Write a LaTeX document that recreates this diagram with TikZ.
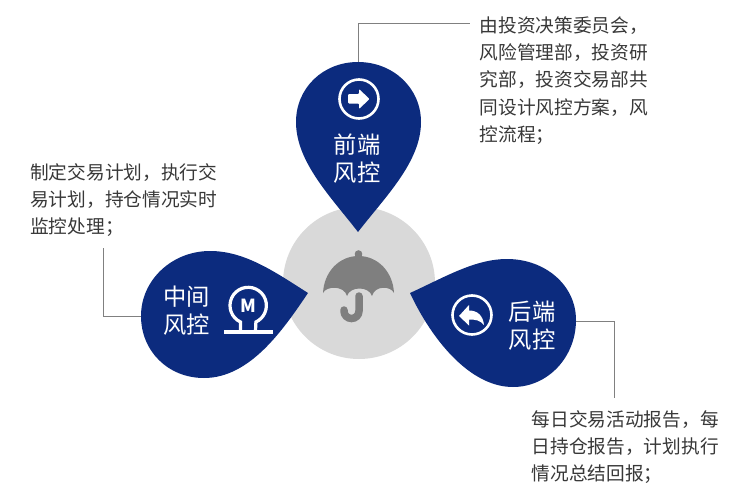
\documentclass[tikz,border=0pt]{standalone}
\usepackage{fontspec}
\setmainfont{Noto Sans CJK SC}
\definecolor{dropblue}{HTML}{0C2B7E}
\definecolor{hubgray}{HTML}{D9D9D9}
\definecolor{icongray}{HTML}{7F7F7F}
\definecolor{linegray}{HTML}{808080}
\tikzset{
  drop/.style={fill=dropblue,draw=none},
  leader/.style={draw=linegray,line width=1pt},
  bodytext/.style={anchor=north west,align=left,inner sep=0pt,text=black!78,font=\fontsize{18.7}{27.2}\selectfont},
  droplabel/.style={align=center,inner sep=0pt,text=white,font=\fontsize{23.3}{27.5}\selectfont},
  iconring/.style={draw=white,line width=2.6pt},
  iconfill/.style={fill=white,draw=none}
}
\begin{document}
\begin{tikzpicture}[x=1pt,y=-1pt]
\useasboundingbox (0,0) rectangle (750,498);
% named ends of connectors
\coordinate (frontTop) at (358.5,63);
\coordinate (frontEnd) at (470,23);
\coordinate (midLeft) at (142,316);
\coordinate (midEnd) at (103,248);
\coordinate (backRight) at (575,321);
\coordinate (backEnd) at (614,398);
% leaders
\draw[leader] (frontTop) |- (frontEnd);
\draw[leader] (midLeft) -| (midEnd);
\draw[leader] (backRight) -| (backEnd);
% hub
\fill[hubgray] (359,283) circle (76);
% drops
\path[drop] (358,232) .. controls (385,197) and (421,162) .. (421,122)
  .. controls (421,88) and (393,62) .. (358,62)
  .. controls (323,62) and (296,88) .. (296,122)
  .. controls (296,162) and (331,197) .. (358,232) -- cycle;
\path[drop] (308,293) .. controls (275,272) and (245,251) .. (210,251)
  .. controls (172,251) and (141,280) .. (141,316)
  .. controls (141,351) and (168,378) .. (204,378)
  .. controls (250,378) and (283,330) .. (308,293) -- cycle;
\path[drop] (410,293) .. controls (445,277) and (475,259) .. (507,259)
  .. controls (545,259) and (576,285) .. (576,320)
  .. controls (576,357) and (548,387) .. (513,387)
  .. controls (470,387) and (432,340) .. (410,293) -- cycle;
% umbrella
\fill[icongray] (358.5,254) circle (3.8);
\fill[icongray] (355,254) rectangle (362,262);
\fill[icongray] (323,293) .. controls (324,272) and (339,256) .. (358.5,256)
  .. controls (378,256) and (393,272) .. (394,293)
  .. controls (391,286) and (375,285) .. (372,296)
  .. controls (369,286) and (350,286) .. (347,296)
  .. controls (344,285) and (326,286) .. (323,293) -- cycle;
\draw[icongray,line width=7.5pt,line cap=round] (359,296) -- (359,311) arc[start angle=0,end angle=180,radius=7.5] -- (344,310);
% front icon
\draw[iconring] (359,99) circle (19.5);
\path[iconfill,rounded corners=1pt] (348,94) -- (359,94) -- (359,89) -- (369.5,99) -- (359,109) -- (359,103.5) -- (348,103.5) -- cycle;
% middle icon
\draw[draw=white,line width=3.2pt] (240.5,331) -- (240.5,322) arc[start angle=115,end angle=425,radius=18.2] -- (255.5,331);
\fill[white] (224,329.5) rectangle (273,334);
\node[inner sep=0pt,text=white,font=\fontsize{18}{18}\bfseries\selectfont] (micon) at (248,305.5) {M};
% back icon
\draw[iconring] (472,315) circle (19.5);
\path[iconfill] (459,316) -- (469,305) -- (469,310.5) .. controls (478,310.5) and (483,316) .. (484,325)
  .. controls (480,320) and (475,319.5) .. (469,319.5) -- (469,325.5) -- cycle;
% labels
\node[droplabel] (front) at (357,158.5) {前端\\风控};
\node[droplabel] (mid) at (186.5,310.5) {中间\\风控};
\node[droplabel] (back) at (532,325.5) {后端\\风控};
% body text
\node[bodytext] (fronttext) at (479.5,16.5) {由投资决策委员会，\\风险管理部，投资研\\究部，投资交易部共\\同设计风控方案，风\\控流程；};
\node[bodytext] (midtext) at (30,163) {制定交易计划，执行交\\易计划，持仓情况实时\\监控处理；};
\node[bodytext] (backtext) at (531.5,410) {每日交易活动报告，每\\日持仓报告，计划执行\\情况总结回报；};
\end{tikzpicture}
\end{document}
